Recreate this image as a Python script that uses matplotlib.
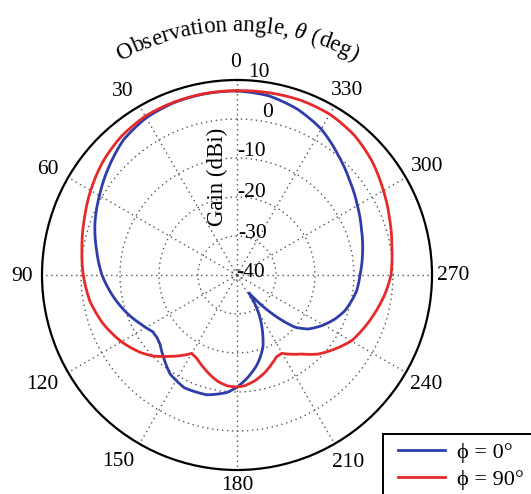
import numpy as np
import matplotlib
matplotlib.use("Agg")
import matplotlib.pyplot as plt
from matplotlib import font_manager
from matplotlib.font_manager import FontProperties
from matplotlib.ft2font import FT2Font
from matplotlib.patches import Rectangle

# ---------------- data ----------------
theta_phi0 = [0, 10, 20, 30, 40, 50, 60, 70, 80, 90, 100, 110, 117, 124, 128, 132, 138, 146,
              155, 166, 175, 180, 186, 192, 196, 200, 204, 207, 210, 212, 213.7, 216.9,
              221.2, 224.4, 228, 232.9, 239.1, 245.8, 251.7, 257.4, 262.5, 270, 280, 290,
              300, 310, 320, 330, 340, 350, 360]
gain_phi0 = [7.18, 7.18, 7.05, 6.54, 5.26, 2.95, 0.72, -1.23, -3.44, -5.38, -7.82, -10.38,
             -12.31, -13.97, -13.97, -13.46, -11.79, -9.36, -8.08, -8.33, -9.74, -11.21,
             -13.59, -16.15, -18.21, -20.51, -23.85, -26.41, -29.23, -31.54, -34.46, -32.31,
             -27.82, -24.10, -19.97, -17.05, -14.69, -12.46, -10.85, -9.87, -9.05, -8.46,
             -7.31, -6.03, -4.36, -2.31, 0.26, 3.21, 5.26, 6.67, 7.18]

theta_phi90 = [0, 10, 20, 30, 40, 50, 60, 70, 80, 90, 100, 110, 120, 128.6, 134.1, 140.5,
               144.8, 150, 154.2, 160, 165, 170, 175, 180, 184, 189.7, 196.1, 201.3, 205.9,
               209.7, 219.3, 225.8, 233, 240.2, 252.6, 262.7, 270, 280, 290, 300, 310, 320,
               330, 340, 350, 360]
gain_phi90 = [7.26, 7.25, 7.18, 7.03, 6.28, 5.0, 3.33, 1.67, 0.38, -0.59, -1.67, -3.46, -5.77,
              -8.21, -10.13, -12.97, -14.67, -16.79, -16.28, -14.79, -13.46, -12.23, -11.46,
              -11.28, -11.54, -12.51, -14.03, -15.51, -16.72, -16.87, -13.82, -10.92, -8.51,
              -6.10, -3.72, -1.74, -0.51, 0.31, 1.67, 3.33, 5.26, 6.80, 7.60, 7.69, 7.44, 7.26]

series_labels = ["\u03d5 = 0\u00b0", "\u03d5 = 90\u00b0"]
angle_ticks = [0, 30, 60, 90, 120, 150, 180, 210, 240, 270, 300, 330]
angle_labels = ["0", "30", "60", "90", "120", "150", "180", "210", "240", "270", "300", "330"]
r_ticks = [10, 0, -10, -20, -30, -40]
r_labels = ["10", "0", "-10", "-20", "-30", "-40"]
title_text = "Observation angle, \u03b8 (deg)"
rlabel_text = "Gain (dBi)"

# ---------------- style ----------------
W, H, DPI = 531, 494, 100
SERIF = ["Liberation Serif", "DejaVu Serif"]
plt.rcParams["font.family"] = SERIF
BLUE = "#2E3DA8"
RED = "#E62A2A"
GRID = "#555555"

fig = plt.figure(figsize=(W / DPI, H / DPI), dpi=DPI)
cx, cy, R = 237, 275, 195
PX_PER_DB = R / 50.0
ax = fig.add_axes([(cx - R) / W, (H - cy - R) / H, 2 * R / W, 2 * R / H], projection="polar")
ax.set_theta_zero_location("N")
ax.set_theta_direction(1)
ax.set_ylim(-40, 10)

ax.set_xticks(np.deg2rad(angle_ticks))
ax.set_xticklabels([])
ax.set_yticks([-38.7, -30, -20, -10, 0])
ax.set_yticklabels([])
ax.tick_params(length=0)
ax.grid(True, color=GRID, linestyle=(0, (1, 2.6)), linewidth=1.0)
ax.spines["polar"].set_color("black")
ax.spines["polar"].set_linewidth(1.6)

l1, = ax.plot(np.deg2rad(theta_phi0), gain_phi0, color=BLUE, lw=2.0, label=series_labels[0])
l2, = ax.plot(np.deg2rad(theta_phi90), gain_phi90, color=RED, lw=2.0, label=series_labels[1])
# let the polar transform draw each segment along the polar grid (arcs, not chords)
for ln in (l1, l2):
    try:
        ln.recache(always=True)
        ln._path._interpolation_steps = 8
    except Exception:
        pass

# angle labels (placement tweaks per label)
TICK_FS = 15.5
lab_theta = [0.5, 32, 60.9, 90.3, 119.4, 147.5, 180, 210.7, 239.9, 270, 299.7, 329.2]
lab_rpx = [213, 216, 216, 214.5, 224, 221, 210.5, 218, 219, 216, 218.4, 214.5]
for th, rp, lab in zip(lab_theta, lab_rpx, angle_labels):
    ax.text(np.deg2rad(th), -40 + rp / PX_PER_DB, lab, ha="center", va="center",
            fontsize=TICK_FS, clip_on=False)

# radial labels
r_dx = [11, 25, 0, 0, 1, -1]
r_dy = [3, 2, 2, 0, -2, -2]
for v, lab, dx, dy in zip(r_ticks, r_labels, r_dx, r_dy):
    ax.annotate(lab, xy=(0, v), xytext=(dx * 0.72, dy * 0.72), textcoords="offset points",
                ha="left", va="baseline", fontsize=TICK_FS, annotation_clip=False)

fig.text(217 / W, 1 - 177 / H, rlabel_text, rotation=90, ha="center", va="center",
         fontsize=16.5)

# curved title
TITLE_FS = 16.5
def char_adv(ch):
    fp = FontProperties(family="Liberation Serif", style="italic" if ch == "\u03b8" else "normal")
    f = FT2Font(font_manager.findfont(fp))
    f.set_size(TITLE_FS, DPI)
    try:
        from matplotlib.ft2font import LoadFlags
        g = f.load_char(ord(ch), flags=LoadFlags.NO_HINTING)
    except Exception:
        g = f.load_char(ord(ch))
    return g.linearHoriAdvance / 65536.0

advs = [char_adv(c) for c in title_text]
total = sum(advs)
rb = 244.0
center_ang = np.deg2rad(0.0)
start = center_ang - total / 2 / rb
pos = 0.0
for ch, adv in zip(title_text, advs):
    ang = start + (pos + adv / 2) / rb
    pos += adv
    if ch == " ":
        continue
    x = cx + rb * np.sin(ang)
    y = cy - rb * np.cos(ang)
    fig.text(x / W, 1 - y / H, ch, rotation=-np.rad2deg(ang), rotation_mode="anchor",
             ha="center", va="baseline", fontsize=TITLE_FS,
             style="italic" if ch == "\u03b8" else "normal")

# legend: frame drawn as a figure rectangle, entries placed without their own frame
frame = Rectangle((383 / W, 1 - 505 / H), 170 / W, 71 / H, transform=fig.transFigure,
                  facecolor="white", edgecolor="black", linewidth=1.4, zorder=4,
                  clip_on=False)
fig.add_artist(frame)
leg = fig.legend(handles=[l1, l2], loc="upper left", bbox_to_anchor=(398 / W, 1 - 442 / H),
                 bbox_transform=fig.transFigure, borderaxespad=0, borderpad=0,
                 fontsize=16, frameon=False, handlelength=2.1, handletextpad=0.55,
                 labelspacing=0.3)
leg.set_zorder(5)

fig.savefig("out.png", dpi=DPI)
